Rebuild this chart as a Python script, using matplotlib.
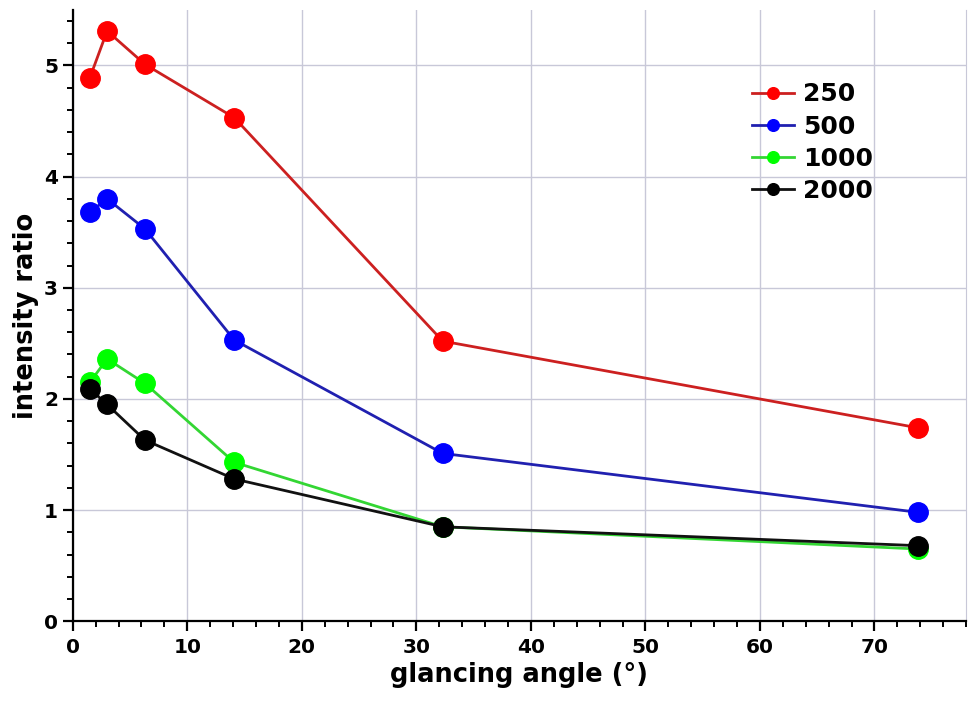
import numpy as np
import matplotlib
matplotlib.use("Agg")
import matplotlib.pyplot as plt
from matplotlib.ticker import MultipleLocator

# glancing angle (deg) and intensity ratio for each series
angles = [1.5, 3.0, 6.3, 14.1, 32.3, 73.8]
labels = ["250", "500", "1000", "2000"]
ratio_250 = [4.89, 5.31, 5.01, 4.53, 2.52, 1.74]
ratio_500 = [3.68, 3.80, 3.53, 2.53, 1.51, 0.98]
ratio_1000 = [2.15, 2.36, 2.14, 1.43, 0.85, 0.65]
ratio_2000 = [2.09, 1.95, 1.63, 1.28, 0.85, 0.68]

line_colors = ["#cc2020", "#2020b0", "#33d633", "#111111"]
marker_colors = ["#ff0000", "#0000ff", "#00ff00", "#000000"]

plt.rcParams['font.family'] = ['DejaVu Sans']
plt.rcParams['font.weight'] = 'bold'

fig = plt.figure(figsize=(9.7, 7.02), dpi=100)
ax = fig.add_axes([0.075, 0.115, 0.921, 0.871])

series = [ratio_250, ratio_500, ratio_1000, ratio_2000]
for vals, lab, lc, mc in zip(series, labels, line_colors, marker_colors):
    ax.plot(angles, vals, '-o', color=lc, lw=2.0, markersize=14,
            markerfacecolor=mc, markeredgecolor=mc, label=lab)

ax.set_xlim(0, 78)
ax.set_ylim(0, 5.5)
ax.xaxis.set_major_locator(MultipleLocator(10))
ax.xaxis.set_minor_locator(MultipleLocator(2))
ax.yaxis.set_major_locator(MultipleLocator(1))
ax.yaxis.set_minor_locator(MultipleLocator(0.2))
ax.grid(True, which='major', color='#c8c8d8', lw=1.0)
ax.set_axisbelow(True)

ax.spines['top'].set_visible(False)
ax.spines['right'].set_color('#c8c8d8')
ax.spines['left'].set_linewidth(1.6)
ax.spines['bottom'].set_linewidth(1.6)
ax.tick_params(axis='both', which='major', direction='out', length=7, width=1.6,
               labelsize=14.5)
ax.tick_params(axis='both', which='minor', direction='out', length=4, width=1.4)
ax.tick_params(axis='y', which='both', right=False)
ax.tick_params(axis='x', which='major', pad=5)

ax.set_xlabel("glancing angle (°)", fontsize=18.5, fontweight='bold', labelpad=4)
ax.set_ylabel("intensity ratio", fontsize=18.5, fontweight='bold', labelpad=4)

leg = ax.legend(loc='upper left', bbox_to_anchor=(0.735, 0.918), frameon=False,
                fontsize=18, markerscale=0.6, handlelength=1.7,
                handletextpad=0.35, labelspacing=0.33)

fig.savefig("out.png", dpi=100)
